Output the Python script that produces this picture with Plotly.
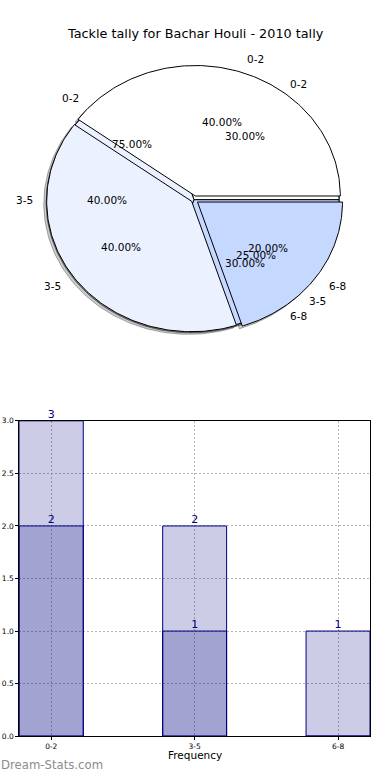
import numpy as np
import plotly.graph_objects as go

# ---------------- data ----------------
title_text = "Tackle tally for Bachar Houli - 2010 tally"

pie_a_labels = ["0-2", "3-5", "6-8"]
pie_a_values = [2, 2, 1]          # 40 / 40 / 20 %
pie_b_labels = ["0-2", "3-5", "6-8"]
pie_b_values = [3, 4, 3]          # 30 / 40 / 30 %
pie_c_labels = ["0-2", "3-5"]
pie_c_values = [3, 1]             # 75 / 25 %

bar_categories = ["0-2", "3-5", "6-8"]
bar_values_light = [3, 2, 1]
bar_values_dark = [2, 1, 0]
y_tick_values = [0.0, 0.5, 1.0, 1.5, 2.0, 2.5, 3.0]
y_tick_labels = ["0.0", "0.5", "1.0", "1.5", "2.0", "2.5", "3.0"]

# ---------------- style ----------------
FONT = "DejaVu Sans"
slice_colors = {"0-2": "#ffffff", "3-5": "#ebf1ff", "6-8": "#c5d8ff"}
# pies drawn bottom -> top
pies = [
    (pie_c_labels, pie_c_values, [0.0, 0.0]),
    (pie_b_labels, pie_b_values, [0.0, 0.0, 0.0]),
    (pie_a_labels, pie_a_values, [0.03, 0.02, 0.03]),
]

fig = go.Figure()
annotations = []


def wedge_path(cx, cy, t1, t2, n=140):
    th = np.radians(np.linspace(t1, t2, n))
    xs = np.concatenate([[cx], cx + np.cos(th), [cx]])
    ys = np.concatenate([[cy], cy + np.sin(th), [cy]])
    return xs, ys


wedge_traces = []
shadow_traces = []
text_items = []
for labels, values, explode in pies:
    total = float(sum(values))
    theta1 = 0.0
    for lab, val, ex in zip(labels, values, explode):
        frac = val / total
        theta2 = theta1 + frac * 360.0
        tm = np.radians(0.5 * (theta1 + theta2))
        cx = ex * np.cos(tm)
        cy = ex * np.sin(tm)
        xs, ys = wedge_path(cx, cy, theta1, theta2)
        shadow_traces.append(go.Scatter(
            x=xs - 0.02, y=ys - 0.02, xaxis="x2", yaxis="y2", mode="lines",
            fill="toself", fillcolor="rgba(70,70,70,0.28)",
            line=dict(color="rgba(30,30,30,0.35)", width=1),
            hoverinfo="skip", showlegend=False))
        wedge_traces.append(go.Scatter(
            x=xs, y=ys, xaxis="x2", yaxis="y2", mode="lines",
            fill="toself", fillcolor=slice_colors[lab],
            line=dict(color="black", width=1),
            hoverinfo="skip", showlegend=False))
        # label at 1.1 r, percentage at 0.6 r
        lx = cx + 1.1 * np.cos(tm)
        ly = cy + 1.1 * np.sin(tm)
        text_items.append(dict(x=lx, y=ly, text=lab,
                               xanchor="left" if lx > 0 else "right"))
        px_ = cx + 0.6 * np.cos(tm)
        py_ = cy + 0.6 * np.sin(tm)
        text_items.append(dict(x=px_, y=py_, text="%.2f%%" % (frac * 100),
                               xanchor="center"))
        theta1 = theta2

for t in shadow_traces:
    fig.add_trace(t)
for t in wedge_traces:
    fig.add_trace(t)

for it in text_items:
    annotations.append(dict(x=it["x"], y=it["y"], xref="x2", yref="y2",
                            text=it["text"], showarrow=False,
                            xanchor=it["xanchor"], yanchor="middle",
                            font=dict(family=FONT, size=10.5, color="black")))

# ---------------- bar chart ----------------
bar_fill = "rgba(0,0,128,0.2)"
fig.add_trace(go.Bar(
    x=bar_categories, y=bar_values_light, width=0.446,
    marker=dict(color=bar_fill, line=dict(color="#000080", width=1)),
    hoverinfo="skip", showlegend=False, xaxis="x", yaxis="y"))
fig.add_trace(go.Bar(
    x=bar_categories, y=bar_values_dark, width=0.446,
    marker=dict(color=bar_fill, line=dict(color="#000080", width=1)),
    hoverinfo="skip", showlegend=False, xaxis="x", yaxis="y"))

for vals in (bar_values_light, bar_values_dark):
    fig.add_trace(go.Scatter(
        x=bar_categories, y=vals, mode="text",
        text=[str(v) if v else "" for v in vals],
        textposition="top center", cliponaxis=False,
        textfont=dict(family=FONT, size=11, color="#000080"),
        hoverinfo="skip", showlegend=False, xaxis="x", yaxis="y"))

annotations.append(dict(x=0.5, y=1 - 30 / 780, xref="paper", yref="paper",
                        text=title_text, showarrow=False, xanchor="center",
                        yanchor="middle",
                        font=dict(family=FONT, size=12.8, color="black")))
annotations.append(dict(x=195 / 390, y=1 - 760 / 780, xref="paper", yref="paper",
                        text="Frequency", showarrow=False, xanchor="center",
                        yanchor="middle",
                        font=dict(family=FONT, size=10.5, color="black")))
annotations.append(dict(x=-0.003, y=1 - 770 / 780, xref="paper", yref="paper",
                        text="Dream-Stats.com", showarrow=False, xanchor="left",
                        yanchor="middle",
                        font=dict(family=FONT, size=11.7, color="#8c8c8c")))

cx_px, rx_px = 194.0, 145.0
cy_px, ry_px = 198.0, 132.0

grid_style = dict(showgrid=True, gridcolor="#b4b4b4", griddash="2px,2px",
                  gridwidth=1)

fig.update_layout(
    width=390, height=780,
    margin=dict(l=0, r=0, t=0, b=0),
    paper_bgcolor="white", plot_bgcolor="white",
    barmode="overlay",
    annotations=annotations,
    xaxis=dict(domain=[19.3 / 390, 370 / 390], anchor="y",
               range=[-0.223, 2.223], type="category",
               showline=True, mirror=True, linecolor="black", linewidth=1,
               ticks="outside", ticklen=3, tickcolor="black",
               ticklabelstandoff=0,
               tickfont=dict(family=FONT, size=7.5, color="black"),
               zeroline=False, fixedrange=True, **grid_style),
    yaxis=dict(domain=[(780 - 740.7) / 780, (780 - 421.7) / 780], anchor="x",
               range=[0, 3], tickvals=y_tick_values, ticktext=y_tick_labels,
               showline=True, mirror=True, linecolor="black", linewidth=1,
               ticks="outside", ticklen=3, tickcolor="black",
               tickfont=dict(family=FONT, size=7.5, color="black"),
               zeroline=False, fixedrange=True, **grid_style),
    xaxis2=dict(domain=[0, 1], anchor="y2",
                range=[-cx_px / rx_px, (390 - cx_px) / rx_px],
                visible=False, fixedrange=True),
    yaxis2=dict(domain=[0.5, 1], anchor="x2",
                range=[-(390 - cy_px) / ry_px, cy_px / ry_px],
                visible=False, fixedrange=True),
)

fig.write_html("out.html",
               config={"displayModeBar": False},
               post_script="document.body.style.margin='0px';"
                           "document.body.style.overflow='hidden';")
